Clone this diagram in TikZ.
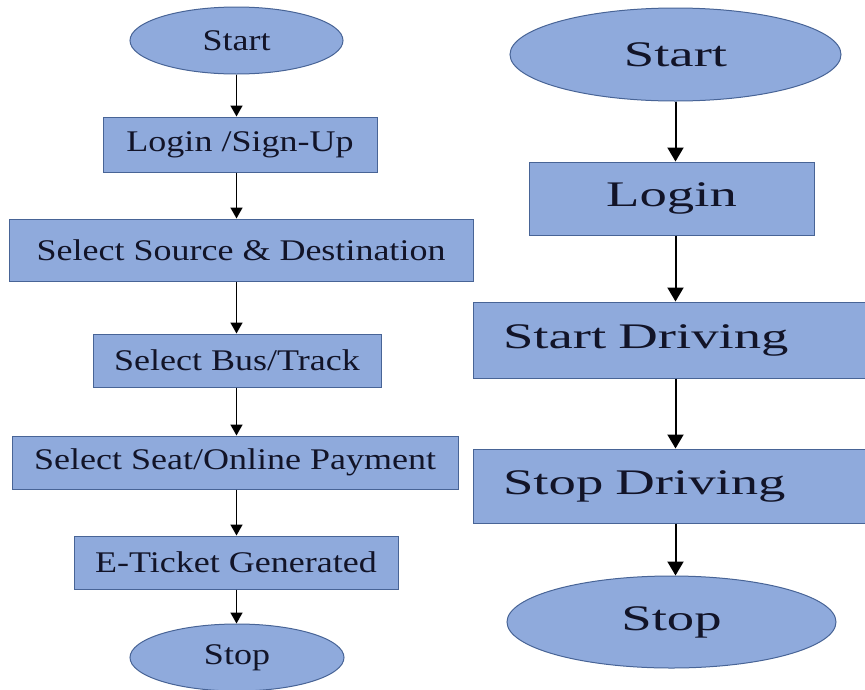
\documentclass[tikz,border=0pt]{standalone}
\usepackage{fontspec}
\usetikzlibrary{arrows.meta,shapes.geometric}
\newfontfamily\smallFont{Liberation Serif}[FakeStretch=1.2]
\newfontfamily\bigFont{Liberation Serif}[FakeStretch=1.52]
\definecolor{boxFill}{RGB}{143,170,220}
\definecolor{boxLine}{RGB}{72,100,150}
\definecolor{boxText}{RGB}{18,20,40}
\tikzset{
  flowNode/.style = {fill=boxFill, draw=boxLine, line width=1pt,
    text=boxText, inner sep=0pt, align=center},
  %passenger side, smaller text
  termSmall/.style = {flowNode, ellipse, font=\smallFont\fontsize{30}{36}\selectfont},
  stepSmall/.style = {flowNode, rectangle, font=\smallFont\fontsize{30}{36}\selectfont},
  %driver side, bigger text
  termBig/.style = {flowNode, ellipse, font=\bigFont\fontsize{36}{42}\selectfont},
  stepBig/.style = {flowNode, rectangle, font=\bigFont\fontsize{36}{42}\selectfont},
  arrowSmall/.style = {-{Triangle[width=12pt,length=11pt]}, line width=1.6pt},
  arrowBig/.style = {-{Triangle[width=16pt,length=14pt]}, line width=2pt}
}

\begin{document}
\begin{tikzpicture}[x=1pt,y=-1pt]
\useasboundingbox (0,0) rectangle (865,689);

% passenger flow
\node [termSmall, minimum width=213, minimum height=67] (lStart) at (236.5,40.5) {Start};
\node [stepSmall, minimum width=274, minimum height=55] (lLogin) at (240,144.5) {Login /Sign-Up};
\node [stepSmall, minimum width=464, minimum height=62] (lRoute) at (241,250) {Select Source \& Destination};
\node [stepSmall, minimum width=288, minimum height=53] (lBus) at (237,360.5) {Select Bus/Track};
\node [stepSmall, minimum width=446, minimum height=53] (lSeat) at (235,462.5) {Select Seat/Online Payment};
\node [stepSmall, minimum width=324, minimum height=53] (lTicket) at (236,562.5) {E-Ticket Generated};
\node [termSmall, minimum width=214, minimum height=67] (lStop) at (237,657.5) {Stop};

\draw [arrowSmall] (lStart.south) -- (lStart.south |- lLogin.north);
\draw [arrowSmall] (lStart.south |- lLogin.south) -- (lStart.south |- lRoute.north);
\draw [arrowSmall] (lStart.south |- lRoute.south) -- (lStart.south |- lBus.north);
\draw [arrowSmall] (lStart.south |- lBus.south) -- (lStart.south |- lSeat.north);
\draw [arrowSmall] (lStart.south |- lSeat.south) -- (lStart.south |- lTicket.north);
\draw [arrowSmall] (lStart.south |- lTicket.south) -- (lStart.south |- lStop.north);

% driver flow
\node [termBig, minimum width=331, minimum height=93] (rStart) at (675.5,54.5) {Start};
\node [stepBig, minimum width=285, minimum height=73] (rLogin) at (671.5,198.5) {Login};
\node [stepBig, minimum height=76, text width=350, inner xsep=30pt, align=left]
  (rDrive) at (678,340) {Start Driving};
\node [stepBig, minimum height=74, text width=350, inner xsep=30pt, align=left]
  (rPark) at (678,486) {Stop Driving};
\node [termBig, minimum width=329, minimum height=92] (rStop) at (671.5,622) {Stop};

\draw [arrowBig] (rStart.south) -- (rStart.south |- rLogin.north);
\draw [arrowBig] (rStart.south |- rLogin.south) -- (rStart.south |- rDrive.north);
\draw [arrowBig] (rStart.south |- rDrive.south) -- (rStart.south |- rPark.north);
\draw [arrowBig] (rStart.south |- rPark.south) -- (rStart.south |- rStop.north);
\end{tikzpicture}
\end{document}
